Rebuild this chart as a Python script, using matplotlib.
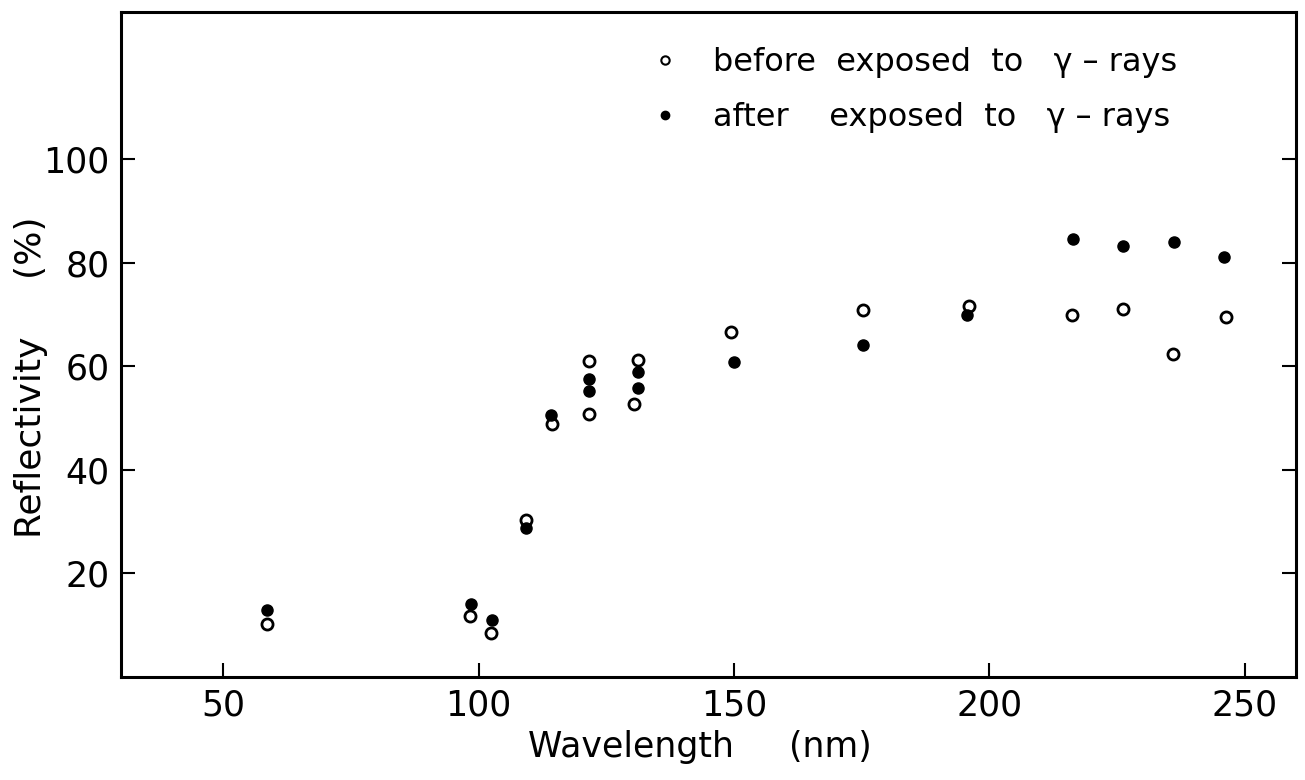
import matplotlib.pyplot as plt
from matplotlib.lines import Line2D

# wavelength (nm) and reflectivity (%)
before_wl = [58.6, 98.3, 102.5, 109.2, 114.4, 121.6, 121.6, 131.3, 130.5,
             149.5, 175.2, 196.1, 216.2, 226.1, 235.9, 246.3]
before_refl = [10.2, 11.7, 8.5, 30.4, 48.9, 61.1, 50.8, 61.3, 52.7,
               66.7, 70.8, 71.6, 69.9, 71.0, 62.4, 69.6]

after_wl = [58.6, 98.6, 102.7, 109.2, 114.1, 121.6, 121.6, 131.3, 131.3,
            150.1, 175.2, 195.7, 216.3, 226.1, 236.1, 246.0]
after_refl = [12.9, 14.1, 11.0, 28.7, 50.7, 57.6, 55.2, 59.0, 55.8,
              60.8, 64.2, 70.0, 84.6, 83.2, 84.0, 81.2]

x_ticks = [50, 100, 150, 200, 250]
y_ticks = [20, 40, 60, 80, 100]

plt.rcParams['font.family'] = ['DejaVu Sans']

fig = plt.figure(figsize=(13.05, 7.80), dpi=100)
ax = fig.add_axes([0.0927, 0.132, 0.9003, 0.853])

ax.plot(before_wl, before_refl, 'o', ms=8, mfc='white', mec='black', mew=2, ls='none')
ax.plot(after_wl, after_refl, 'o', ms=8, mfc='black', mec='black', ls='none')

ax.set_xlim(30, 260)
ax.set_ylim(0, 128.5)
ax.set_xticks(x_ticks)
ax.set_yticks(y_ticks)
ax.tick_params(direction='in', length=10, width=1.5, labelsize=25, pad=8,
               right=True, top=False)
for s in ax.spines.values():
    s.set_linewidth(2.2)

ax.set_xlabel('Wavelength     (nm)', fontsize=25)
ax.set_ylabel('Reflectivity     (%)', fontsize=26)
ax.xaxis.set_label_coords(0.493, -0.08)
ax.yaxis.set_label_coords(-0.062, 0.45)

handles = [
    Line2D([], [], marker='o', ls='none', ms=6, mfc='white', mec='black', mew=1.5),
    Line2D([], [], marker='o', ls='none', ms=6, mfc='black', mec='black'),
]
labels = ['before  exposed  to   \u03b3 \u2013 rays',
          'after    exposed  to   \u03b3 \u2013 rays']
ax.legend(handles, labels, loc='upper left', bbox_to_anchor=(0.425, 0.99),
          frameon=False, fontsize=23, handletextpad=1.0, labelspacing=0.75,
          handlelength=1.0)

fig.savefig('out.png', dpi=100)
